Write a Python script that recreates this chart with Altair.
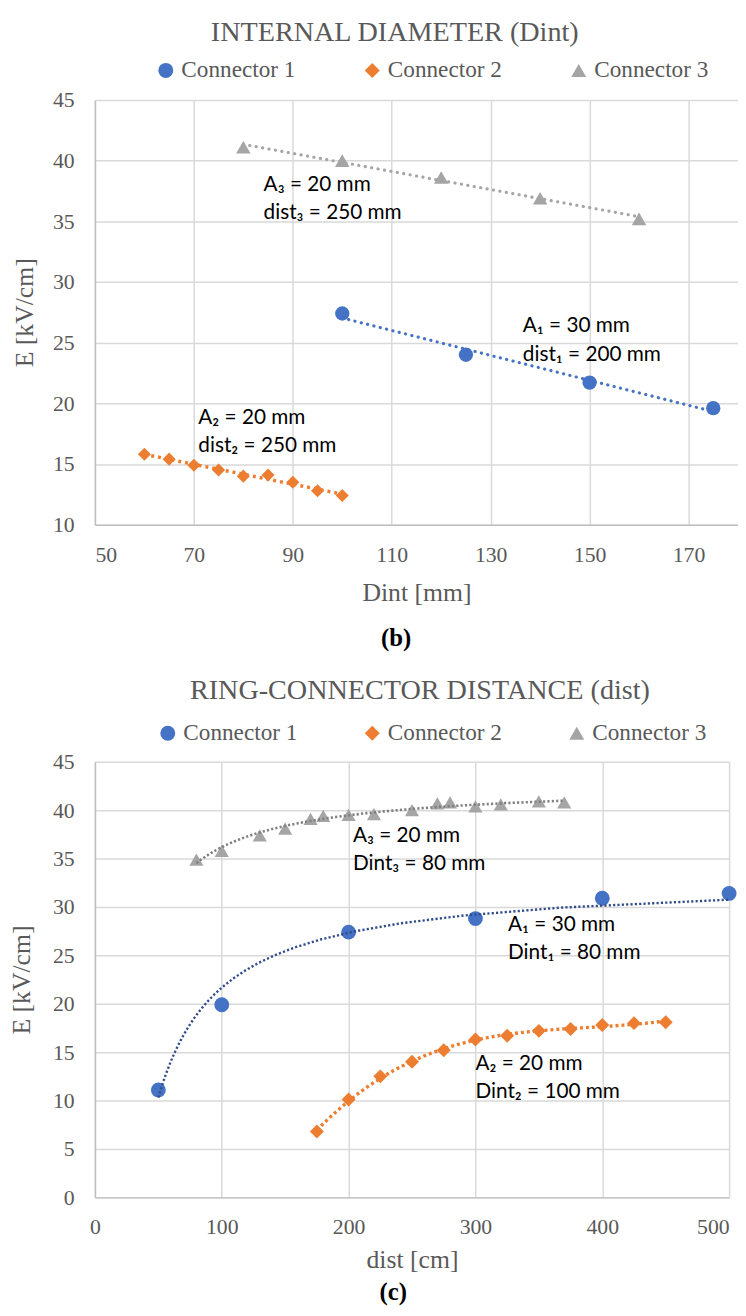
import altair as alt
import pandas as pd

SERIES = ["Connector 1", "Connector 2", "Connector 3"]
MARK_COLORS = ["#4472C4", "#ED7D31", "#A5A5A5"]
MARK_SHAPES = ["circle", "diamond", "triangle-up"]

# ---------------- panel (b): internal diameter ----------------
b_title = "INTERNAL DIAMETER (Dint)"
b_caption = "(b)"
b_x_title = "Dint [mm]"
b_x_ticks = [50, 70, 90, 110, 130, 150, 170]
b_y_ticks = [10, 15, 20, 25, 30, 35, 40, 45]
b_c1_x = [100, 125, 150, 175]
b_c1_y = [27.4, 24.0, 21.7, 19.6]
b_c2_x = [60, 65, 70, 75, 80, 85, 90, 95, 100]
b_c2_y = [15.8, 15.4, 14.9, 14.5, 14.0, 14.1, 13.5, 12.8, 12.4]
b_c3_x = [80, 100, 120, 140, 160]
b_c3_y = [41.1, 40.0, 38.6, 36.9, 35.2]
b_note_text = ["A\u2081 = 30 mm", "dist\u2081 = 200 mm", "A\u2082 = 20 mm", "dist\u2082 = 250 mm",
               "A\u2083 = 20 mm", "dist\u2083 = 250 mm"]
b_note_x = [136.5, 136.5, 70.9, 70.9, 84.1, 84.1]
b_note_y = [26.4, 24.0, 18.8, 16.5, 38.0, 35.65]

# ---------------- panel (c): ring-connector distance ----------------
c_title = "RING-CONNECTOR DISTANCE (dist)"
c_caption = "(c)"
c_x_title = "dist [cm]"
c_x_ticks = [0, 100, 200, 300, 400, 500]
c_y_ticks = [0, 5, 10, 15, 20, 25, 30, 35, 40, 45]
c_c1_x = [50, 100, 200, 300, 400, 500]
c_c1_y = [11.1, 19.9, 27.4, 28.8, 30.9, 31.4]
c_c2_x = [175, 200, 225, 250, 275, 300, 325, 350, 375, 400, 425, 450]
c_c2_y = [6.8, 10.1, 12.5, 14.0, 15.2, 16.3, 16.7, 17.2, 17.4, 17.8, 18.0, 18.1]
c_c3_x = [80, 100, 130, 150, 170, 180, 200, 220, 250, 270, 280, 300, 320, 350, 370]
c_c3_y = [34.9, 35.8, 37.4, 38.1, 39.1, 39.4, 39.5, 39.6, 40.0, 40.7, 40.8, 40.4, 40.6, 40.9, 40.8]
c_note_text = ["A\u2081 = 30 mm", "Dint\u2081 = 80 mm", "A\u2082 = 20 mm", "Dint\u2082 = 100 mm",
               "A\u2083 = 20 mm", "Dint\u2083 = 80 mm"]
c_note_x = [325.7, 325.7, 300, 300, 203.4, 203.4]
c_note_y = [28.1, 25.2, 13.8, 10.9, 37.35, 34.4]

Y_TITLE = "E [kV/cm]"

SERIF = "Liberation Serif"
NOTE_FONT = "Lato, Noto Sans, sans-serif"
GREY_TXT = "#595959"


def series_frame(xs_list, ys_list):
    rows = []
    for name, xs, ys in zip(SERIES, xs_list, ys_list):
        for x, y in zip(xs, ys):
            rows.append({"series": name, "x": x, "y": y})
    return pd.DataFrame(rows)


def panel(df, notes, xdom, ydom, xticks, yticks, xtitle, title, caption, trends,
          width, height, legend_x, legend_y, legend_pad, title_offset, title_dx,
          x_label_pad, x_title_pad, y_title_pad, caption_x, caption_y,
          sizes, last_right=False):
    xaxis = dict(values=xticks, title=xtitle, labelPadding=x_label_pad, titlePadding=x_title_pad)
    if last_right:
        xaxis["labelAlign"] = {"condition": {"test": "datum.value >= %d" % xticks[-1], "value": "right"},
                               "value": "center"}
    x_enc = alt.X("x:Q", scale=alt.Scale(domain=xdom, nice=False, zero=False), axis=alt.Axis(**xaxis))
    y_enc = alt.Y("y:Q", scale=alt.Scale(domain=ydom, nice=False, zero=False),
                  axis=alt.Axis(values=yticks, title=Y_TITLE, labelPadding=21, titlePadding=y_title_pad))
    legend = alt.Legend(title=None, orient="none", direction="horizontal",
                        legendX=legend_x, legendY=legend_y, padding=0,
                        labelFont=SERIF, labelFontSize=23.5, labelColor=GREY_TXT,
                        symbolSize=230, symbolStrokeWidth=0, symbolOpacity=1,
                        labelOffset=4, columnPadding=legend_pad)
    color_enc = alt.Color("series:N", scale=alt.Scale(domain=SERIES, range=MARK_COLORS), legend=legend)
    shape_enc = alt.Shape("series:N", scale=alt.Scale(domain=SERIES, range=MARK_SHAPES), legend=legend)
    layers = []
    for name, size in zip(SERIES, sizes):
        layers.append(
            alt.Chart(df).transform_filter(alt.datum.series == name)
            .mark_point(filled=True, opacity=1, strokeWidth=0, size=size)
            .encode(x=x_enc, y=y_enc, color=color_enc, shape=shape_enc)
        )
    for name, method, order, color, dash, sw, cap in trends:
        base = alt.Chart(df).transform_filter(alt.datum.series == name)
        if method == "reciprocal":
            base = (base.transform_calculate(u="1 / datum.x")
                    .transform_regression("u", "y", method="poly", order=1)
                    .transform_calculate(x="1 / datum.u"))
        else:
            kw = {"method": method}
            if order:
                kw["order"] = order
            base = base.transform_regression("x", "y", **kw)
        layers.append(
            base.mark_line(color=color, strokeDash=dash, strokeWidth=sw, strokeCap=cap)
            .encode(x=x_enc, y=y_enc)
        )
    layers.append(
        alt.Chart(notes).mark_text(align="left", baseline="middle", font=NOTE_FONT,
                                   fontSize=21, color="#000000")
        .encode(x=x_enc, y=y_enc, text="t:N")
    )
    layers.append(
        alt.Chart(pd.DataFrame({"t": [caption]})).mark_text(
            font=SERIF, fontSize=25, fontWeight="bold", color="#000000", baseline="middle")
        .encode(text="t:N", x=alt.value(caption_x), y=alt.value(caption_y))
    )
    return alt.layer(*layers).properties(
        width=width, height=height,
        title=alt.TitleParams(title, font=SERIF, fontSize=28.5, fontWeight="normal", color=GREY_TXT,
                              anchor="middle", frame="group", dx=title_dx, offset=title_offset),
    )


b_df = series_frame([b_c1_x, b_c2_x, b_c3_x], [b_c1_y, b_c2_y, b_c3_y])
b_notes = pd.DataFrame({"x": b_note_x, "y": b_note_y, "t": b_note_text})
c_df = series_frame([c_c1_x, c_c2_x, c_c3_x], [c_c1_y, c_c2_y, c_c3_y])
c_notes = pd.DataFrame({"x": c_note_x, "y": c_note_y, "t": c_note_text})

top = panel(
    b_df, b_notes, [50, 180], [10, 45], b_x_ticks, b_y_ticks, b_x_title, b_title, b_caption,
    trends=[
        ("Connector 1", "linear", None, "#4472C4", [0.1, 6.5], 3.2, "round"),
        ("Connector 2", "linear", None, "#ED7D31", [3, 4], 3.5, "butt"),
        ("Connector 3", "linear", None, "#A5A5A5", [0.1, 6.5], 3.2, "round"),
    ],
    width=651, height=430, legend_x=60, legend_y=-42, legend_pad=65,
    title_offset=12, title_dx=-22,
    x_label_pad=20, x_title_pad=15, y_title_pad=15, caption_x=305, caption_y=545,
    sizes=[210, 175, 216],
)

bottom = panel(
    c_df, c_notes, [0, 500], [0, 45], c_x_ticks, c_y_ticks, c_x_title, c_title, c_caption,
    trends=[
        ("Connector 1", "reciprocal", None, "#2F4B8A", [2.2, 2.2], 2.4, "butt"),
        ("Connector 2", "poly", 3, "#ED7D31", [3, 3], 3.4, "butt"),
        ("Connector 3", "reciprocal", None, "#808080", [2.2, 2.2], 2.6, "butt"),
    ],
    width=642, height=441, legend_x=62, legend_y=-41, legend_pad=63,
    title_offset=17, title_dx=8,
    x_label_pad=20, x_title_pad=9, y_title_pad=18, caption_x=302, caption_y=537,
    sizes=[225, 200, 205], last_right=True,
)

chart = (
    alt.vconcat(top, bottom, spacing=25)
    .resolve_scale(color="independent", shape="independent",
                   x="independent", y="independent")
    .resolve_legend(color="independent", shape="independent")
    .properties(padding={"left": 1, "top": 2, "right": 0, "bottom": 0})
    .configure_view(stroke=None)
    .configure_axis(
        grid=True, gridColor="#D9D9D9", gridWidth=1.5,
        ticks=False, tickSize=0,
        domainColor="#BFBFBF", domainWidth=1.5,
        labelFont=SERIF, labelFontSize=22, labelColor=GREY_TXT,
        titleFont=SERIF, titleFontSize=26, titleColor=GREY_TXT, titleFontWeight="normal",
    )
)

chart.save("out.html", embed_options={"renderer": "svg", "actions": False})
